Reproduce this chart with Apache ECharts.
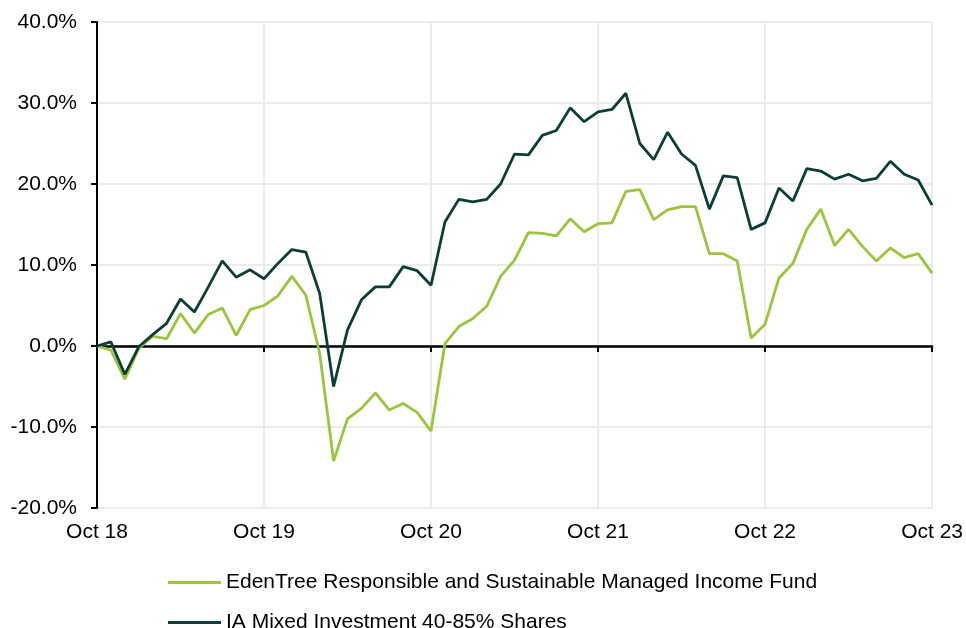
<!DOCTYPE html>
<html>
<head>
<meta charset="utf-8">
<script src="https://cdn.jsdelivr.net/npm/echarts@6/dist/echarts.min.js"></script>
<style>
  html, body { margin: 0; padding: 0; background: #fff; }
  #chart { width: 966px; height: 628px; }
</style>
</head>
<body>
<div id="chart"></div>
<script>
// month labels Oct 18 .. Oct 23
var monthNames = ['Jan','Feb','Mar','Apr','May','Jun','Jul','Aug','Sep','Oct','Nov','Dec'];
var months = [];
for (var i = 0; i <= 60; i++) {
    var m = (9 + i) % 12;
    var y = 18 + Math.floor((9 + i) / 12);
    months.push(monthNames[m] + ' ' + y);
}

var seriesNames = [
    'EdenTree Responsible and Sustainable Managed Income Fund',
    'IA Mixed Investment 40-85% Shares'
];

// cumulative performance, %
var edenTree = [
    0, -0.5, -4.1, -0.3, 1.2, 0.9, 4.0, 1.6, 3.9, 4.7, 1.3, 4.5,
    5.0, 6.2, 8.6, 6.3, -0.9, -14.2, -9.0, -7.7, -5.8, -7.9, -7.1, -8.2,
    -10.5, 0.3, 2.4, 3.4, 4.9, 8.6, 10.6, 14.0, 13.9, 13.6, 15.7, 14.1,
    15.1, 15.2, 19.1, 19.3, 15.6, 16.8, 17.2, 17.2, 11.4, 11.4, 10.5, 1.0,
    2.7, 8.4, 10.2, 14.4, 16.9, 12.4, 14.4, 12.3, 10.5, 12.1, 10.9, 11.4,
    9.0
];
var iaMixed = [
    0, 0.5, -3.5, -0.1, 1.4, 2.8, 5.8, 4.2, 7.3, 10.5, 8.5, 9.4,
    8.3, 10.2, 11.9, 11.6, 6.5, -5.0, 2.0, 5.7, 7.3, 7.3, 9.8, 9.3,
    7.5, 15.3, 18.1, 17.8, 18.1, 20.0, 23.7, 23.6, 26.0, 26.6, 29.4, 27.7,
    28.9, 29.2, 31.2, 25.0, 23.0, 26.4, 23.7, 22.3, 16.9, 21.0, 20.8, 14.4,
    15.2, 19.5, 17.9, 21.9, 21.6, 20.6, 21.2, 20.4, 20.7, 22.8, 21.2, 20.5,
    17.4
];

var font = 'Liberation Sans, Arial, sans-serif';
var gridColor = '#ebebeb';

var myChart = echarts.init(document.getElementById('chart'));
myChart.setOption({
    animation: false,
    textStyle: { fontFamily: font },
    grid: { left: 97, right: 33, top: 22, bottom: 120, containLabel: false },
    legend: {
        orient: 'vertical',
        left: 168,
        top: 572,
        height: 90,
        padding: 0,
        icon: 'rect',
        itemWidth: 53,
        itemHeight: 3,
        itemGap: 19,
        data: seriesNames,
        textStyle: { fontSize: 21, color: '#000', fontFamily: font }
    },
    xAxis: [
        {
            type: 'category',
            data: months,
            boundaryGap: false,
            position: 'bottom',
            axisLine: { onZero: true, lineStyle: { color: '#000', width: 2.5 } },
            axisTick: { show: true, interval: 11, length: 6, lineStyle: { color: '#000', width: 2 } },
            axisLabel: { show: false },
            splitLine: { show: true, interval: 11, lineStyle: { color: gridColor, width: 2 } }
        },
        {
            type: 'category',
            data: months,
            boundaryGap: false,
            position: 'bottom',
            axisLine: { show: false, onZero: false },
            axisTick: { show: false },
            axisLabel: { interval: 11, fontSize: 21, color: '#000', margin: 14, fontFamily: font },
            splitLine: { show: false }
        }
    ],
    yAxis: {
        type: 'value',
        min: -20,
        max: 40,
        interval: 10,
        axisLine: { show: true, lineStyle: { color: '#000', width: 2 } },
        axisTick: { show: true, length: 6, lineStyle: { color: '#000', width: 2 } },
        axisLabel: {
            fontSize: 21, color: '#000', margin: 20, fontFamily: font,
            formatter: function (v) { return v.toFixed(1) + '%'; }
        },
        splitLine: { show: true, lineStyle: { color: gridColor, width: 2 } }
    },
    series: [
        {
            name: seriesNames[0],
            type: 'line',
            xAxisIndex: 0,
            data: edenTree,
            symbol: 'none',
            lineStyle: { color: '#9cc43d', width: 2.8 },
            itemStyle: { color: '#9cc43d' }
        },
        {
            name: seriesNames[1],
            type: 'line',
            xAxisIndex: 0,
            data: iaMixed,
            symbol: 'none',
            lineStyle: { color: '#0c3d37', width: 2.8 },
            itemStyle: { color: '#0c3d37' }
        }
    ]
});
</script>
</body>
</html>
